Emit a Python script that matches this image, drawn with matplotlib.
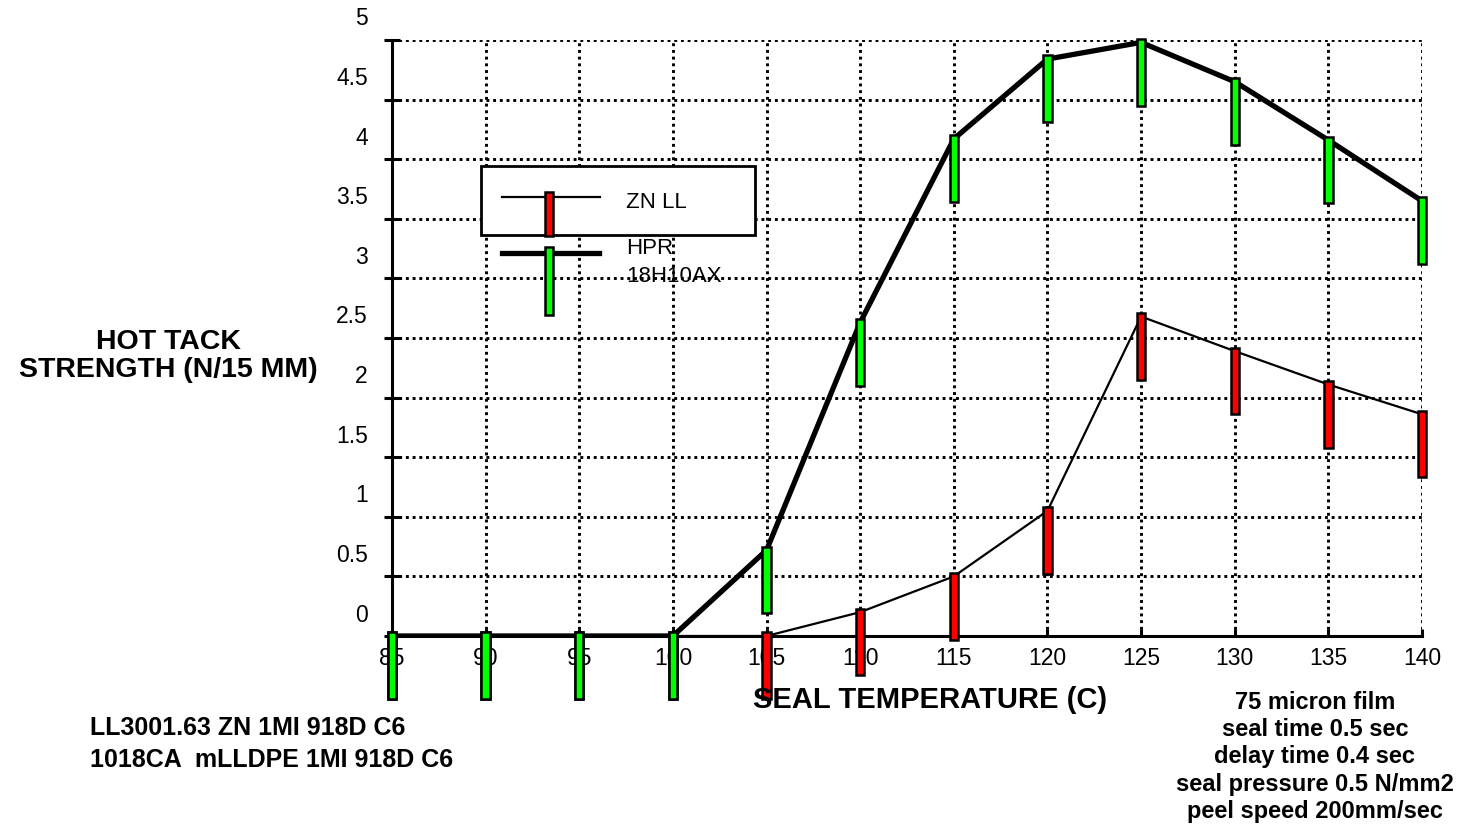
import numpy as np
import matplotlib
matplotlib.use("Agg")
from matplotlib import pyplot as plt
from matplotlib import transforms
from matplotlib.patches import Rectangle
from matplotlib.lines import Line2D

plt.rcParams['font.family'] = ['Liberation Sans', 'DejaVu Sans']

# seal temperature (C)
temps = [85, 90, 95, 100, 105, 110, 115, 120, 125, 130, 135, 140]
# hot tack strength (N/15 mm)
zn_ll = [0, 0, 0, 0, 0, 0.20, 0.50, 1.05, 2.68, 2.39, 2.11, 1.86]
hpr = [0, 0, 0, 0, 0.72, 2.63, 4.17, 4.84, 4.98, 4.65, 4.16, 3.65]
# error bar extent above / below each point
err_above = 0.03
err_below = 0.53

y_ticks = [0, 0.5, 1, 1.5, 2, 2.5, 3, 3.5, 4, 4.5, 5]
y_labels = ["0", "0.5", "1", "1.5", "2", "2.5", "3", "3.5", "4", "4.5", "5"]

W, H = 1458, 829
fig = plt.figure(figsize=(W / 100, H / 100), dpi=100)
ax = fig.add_axes([392 / W, 1 - 637 / H, (1422 - 392) / W, (637 - 41) / H])

ax.set_xlim(85, 140)
ax.set_ylim(0, 5)
ax.set_xticks(temps)
ax.set_xticklabels([str(t) for t in temps], fontsize=16.5)
ax.set_yticks(y_ticks)
ax.set_yticklabels([])
ax.grid(True, color='black', linestyle=(0, (1, 1.3)), linewidth=2.1)
for s in ['top', 'right']:
    ax.spines[s].set_visible(False)
ax.spines['left'].set_linewidth(2.2)
ax.spines['bottom'].set_linewidth(2.2)
ax.tick_params(axis='y', direction='inout', length=12, width=2.2)
ax.tick_params(axis='x', direction='in', length=5, width=2.2, pad=7)

# y labels sit above their grid lines
off = transforms.ScaledTranslation(-24 / 100, 22 / 100, fig.dpi_scale_trans)
for v, lab in zip(y_ticks, y_labels):
    ax.text(0, v, lab, transform=ax.get_yaxis_transform() + off,
            ha='right', va='center', fontsize=16.5)

ax.plot(temps, zn_ll, color='black', linewidth=1.6, zorder=3)
ax.plot(temps, hpr, color='black', linewidth=3.8, zorder=3)

zn = np.array(zn_ll)
hp = np.array(hpr)
ax.bar(temps, err_above + err_below, bottom=zn - err_below, width=0.45,
       color='#ff0000', edgecolor='black', linewidth=1.8, zorder=4, clip_on=False)
ax.bar(temps, err_above + err_below, bottom=hp - err_below, width=0.45,
       color='#00ff00', edgecolor='black', linewidth=1.8, zorder=5, clip_on=False)

# legend drawn by hand (it overflows its box in the original)
def px(x, y):
    return x / W, 1 - y / H

tf = fig.transFigure
box = Rectangle(px(481, 236), 274 / W, 69 / H, transform=tf,
                facecolor='white', edgecolor='black', linewidth=2, zorder=10)
fig.patches.append(box)
fig.lines.append(Line2D([502 / W, 600 / W], [1 - 198 / H] * 2, transform=tf,
                        color='black', linewidth=1.6, zorder=11))
fig.patches.append(Rectangle(px(545, 237), 8 / W, 44 / H, transform=tf,
                             facecolor='#ff0000', edgecolor='black',
                             linewidth=1.8, zorder=12))
fig.lines.append(Line2D([502 / W, 599 / W], [1 - 254 / H] * 2, transform=tf,
                        color='black', linewidth=3.8, zorder=11))
fig.patches.append(Rectangle(px(545, 316), 8 / W, 68 / H, transform=tf,
                             facecolor='#00ff00', edgecolor='black',
                             linewidth=1.8, zorder=12))
fig.text(*px(626, 203), "ZN LL", fontsize=16, va='center', ha='left', zorder=13)
fig.text(*px(626, 248), "HPR", fontsize=16, va='center', ha='left', zorder=13)
fig.text(*px(626, 277), "18H10AX", fontsize=16, va='center', ha='left', zorder=13)

# axis titles and notes
fig.text(*px(168, 356), "HOT TACK\nSTRENGTH (N/15 MM)", fontsize=20.5,
         fontweight='bold', ha='center', va='center', linespacing=1.1)
fig.text(*px(930, 700), "SEAL TEMPERATURE (C)", fontsize=21,
         fontweight='bold', ha='center', va='center')
fig.text(*px(90, 744), "LL3001.63 ZN 1MI 918D C6\n1018CA  mLLDPE 1MI 918D C6",
         fontsize=18, fontweight='bold', ha='left', va='center', linespacing=1.4)
fig.text(*px(1315, 757), "75 micron film\nseal time 0.5 sec\ndelay time 0.4 sec\n"
         "seal pressure 0.5 N/mm2\npeel speed 200mm/sec",
         fontsize=17, fontweight='bold', ha='center', va='center', linespacing=1.23)

fig.savefig("out.png", dpi=100)
